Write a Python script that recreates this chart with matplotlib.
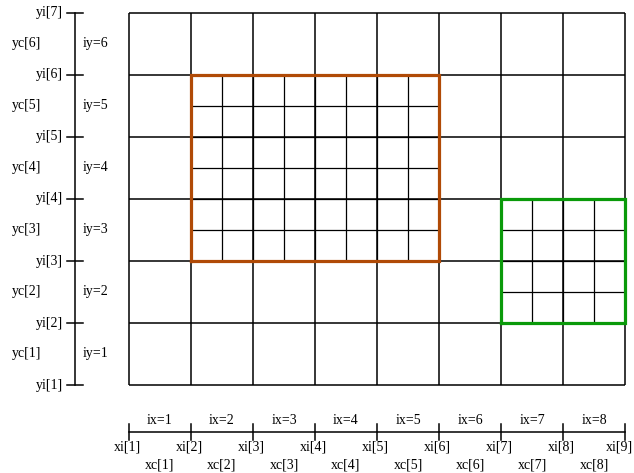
import matplotlib.pyplot as plt
import numpy as np

# grid interfaces (index units)
xi = [0, 1, 2, 3, 4, 5, 6, 7, 8]
yi = [0, 1, 2, 3, 4, 5, 6]

# refined patches: x range, y range, refinement, colour
patch_x = [(1, 5), (6, 8)]
patch_y = [(2, 5), (1, 3)]
patch_ref = [2, 2]
patch_col = ['#b04a06', '#0a9a0a']

plt.rcParams['font.family'] = ['Liberation Serif', 'DejaVu Serif']
fs = 10

fig = plt.figure(figsize=(6.34, 4.73), dpi=100)
ax = fig.add_axes([0, 0, 1, 1])
# 62 px per cell, grid origin at pixel (129, 385)
ax.set_xlim(-129 / 62, (634 - 129) / 62)
ax.set_ylim(-88 / 62, (473 - 88) / 62)
ax.axis('off')

# coarse grid
ax.vlines(xi, yi[0], yi[-1], color='black', lw=1.1, zorder=2)
ax.hlines(yi, xi[0], xi[-1], color='black', lw=1.1, zorder=2)

# refined patches
for (x0, x1), (y0, y1), r, c in zip(patch_x, patch_y, patch_ref, patch_col):
    fx = np.linspace(x0, x1, (x1 - x0) * r + 1)
    fy = np.linspace(y0, y1, (y1 - y0) * r + 1)
    ax.vlines(fx[1:-1], y0, y1, color='black', lw=0.9, zorder=2)
    ax.hlines(fy[1:-1], x0, x1, color='black', lw=0.9, zorder=2)
    ax.plot([x0, x1, x1, x0, x0], [y0, y0, y1, y1, y0], color=c, lw=2.3, zorder=3,
            solid_joinstyle='miter')

# left axis
ax_x = -54 / 62
tick = 8 / 62
ax.plot([ax_x, ax_x], [yi[0], yi[-1]], color='black', lw=1.1)
for k, y in enumerate(yi):
    ax.plot([ax_x - tick, ax_x + tick], [y, y], color='black', lw=1.1)
    ax.text(-66 / 62, y, f'yi[{k + 1}]', ha='right', va='center', fontsize=fs)
for k in range(len(yi) - 1):
    yc = (yi[k] + yi[k + 1]) / 2
    ax.text(-117 / 62, yc, f'yc[{k + 1}]', ha='left', va='center', fontsize=fs)
    ax.text(-46 / 62, yc, f'iy={k + 1}', ha='left', va='center', fontsize=fs)

# bottom axis
ax_y = -47 / 62
ax.plot([xi[0], xi[-1]], [ax_y, ax_y], color='black', lw=1.1)
for k, x in enumerate(xi):
    ax.plot([x, x], [ax_y - tick, ax_y + tick], color='black', lw=1.1)
    if k == len(xi) - 1:
        ax.text(x + 8 / 62, -62 / 62, f'xi[{k + 1}]', ha='right', va='center', fontsize=fs)
    else:
        ax.text(x - 0.03, -62 / 62, f'xi[{k + 1}]', ha='center', va='center', fontsize=fs)
for k in range(len(xi) - 1):
    xc = (xi[k] + xi[k + 1]) / 2
    ax.text(xc, -35 / 62, f'ix={k + 1}', ha='center', va='center', fontsize=fs)
    ax.text(xc, -80 / 62, f'xc[{k + 1}]', ha='center', va='center', fontsize=fs)

plt.savefig('out.png', dpi=100)
